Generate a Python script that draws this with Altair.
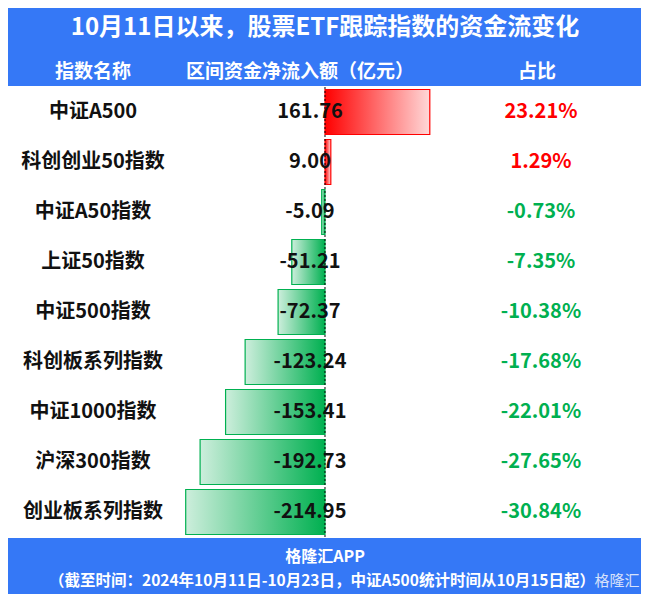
import altair as alt
import pandas as pd

names = ["中证A500", "科创创业50指数", "中证A50指数", "上证50指数", "中证500指数",
         "科创板系列指数", "中证1000指数", "沪深300指数", "创业板系列指数"]
values = [161.76, 9.00, -5.09, -51.21, -72.37, -123.24, -153.41, -192.73, -214.95]
shares = [23.21, 1.29, -0.73, -7.35, -10.38, -17.68, -22.01, -27.65, -30.84]

title_text = "10月11日以来，股票ETF跟踪指数的资金流变化"
headers = ["指数名称", "区间资金净流入额（亿元）", "占比"]
footer1 = "格隆汇APP"
footer2 = "（截至时间：2024年10月11日-10月23日，中证A500统计时间从10月15日起）"
watermark = "格隆汇"

W, H = 633, 586
BLUE = "#3578f6"
RED = "#ff0000"
GREEN = "#00b050"
FONT = "Noto Sans CJK SC"

df = pd.DataFrame({"name": names, "value": values, "share": shares})

yenc = alt.Y("name:N", sort=names, axis=None,
             scale=alt.Scale(range=[79, 529], paddingInner=0.1, paddingOuter=0.05))
xscale = alt.Scale(domain=[-489.2, 487.7], range=[0, W], nice=False, zero=False)
xenc = alt.X("value:Q", scale=xscale, axis=None)
x2enc = alt.X2(datum=0)

base = alt.Chart(df).transform_calculate(
    vlbl="replace(format(datum.value, '.2f'), '\u2212', '-')",
    slbl="replace(format(datum.share, '.2f'), '\u2212', '-') + '%'",
)

red_grad = alt.Gradient(gradient="linear", x1=0, x2=1, y1=0, y2=0,
                        stops=[alt.GradientStop(color=RED, offset=0),
                               alt.GradientStop(color="#ffd8d8", offset=1)])
green_grad = alt.Gradient(gradient="linear", x1=0, x2=1, y1=0, y2=0,
                          stops=[alt.GradientStop(color="#cdeedc", offset=0),
                                 alt.GradientStop(color=GREEN, offset=1)])

pos_bars = base.transform_filter(alt.datum.value > 0).mark_bar(
    fill=red_grad, stroke=RED, strokeWidth=1.2).encode(x=xenc, x2=x2enc, y=yenc)
neg_bars = base.transform_filter(alt.datum.value < 0).mark_bar(
    fill=green_grad, stroke=GREEN, strokeWidth=1.2).encode(x=xenc, x2=x2enc, y=yenc)

zero_line = alt.Chart(pd.DataFrame({"z": [0]})).mark_rule(
    color="black", strokeDash=[2, 2], strokeWidth=1).encode(
    x=alt.X("z:Q", scale=xscale, axis=None), y=alt.value(79), y2=alt.value(529))

name_text = base.mark_text(font=FONT, fontSize=20, fontWeight="bold", color="#111111",
                           align="center", baseline="middle").encode(
    x=alt.value(85), y=yenc, text="name:N")
value_text = base.mark_text(font=FONT, fontSize=20, fontWeight="bold", color="#111111",
                            align="center", baseline="middle").encode(
    x=alt.value(302), y=yenc, text="vlbl:N")
share_text = base.mark_text(
    font=FONT, fontSize=20, fontWeight="bold", align="center", baseline="middle").encode(
    x=alt.value(533), y=yenc, text="slbl:N",
    color=alt.condition(alt.datum.share > 0, alt.value(RED), alt.value(GREEN)))

dummy = pd.DataFrame({"a": [0]})
header_band = alt.Chart(dummy).mark_rect(color=BLUE).encode(
    x=alt.value(0), x2=alt.value(W), y=alt.value(0), y2=alt.value(78))
footer_band = alt.Chart(dummy).mark_rect(color=BLUE).encode(
    x=alt.value(0), x2=alt.value(W), y=alt.value(530), y2=alt.value(H))

title_mark = alt.Chart(dummy).mark_text(
    text=title_text, font=FONT, fontSize=24, fontWeight="bold", color="white",
    align="center", baseline="middle").encode(x=alt.value(317), y=alt.value(20))

hdf = pd.DataFrame({"h": headers, "hx": [85, 292, 529]})
header_marks = alt.Chart(hdf).mark_text(
    font=FONT, fontSize=19, fontWeight="bold", color="white",
    align="center", baseline="middle").encode(
    x=alt.X("hx:Q", scale=None), y=alt.value(64), text="h:N")

foot1 = alt.Chart(dummy).mark_text(
    text=footer1, font=FONT, fontSize=16, fontWeight="bold", color="white",
    align="center", baseline="middle").encode(x=alt.value(317), y=alt.value(549))
foot2 = alt.Chart(dummy).mark_text(
    text=footer2, font=FONT, fontSize=15.5, fontWeight="bold", color="white",
    align="center", baseline="middle").encode(x=alt.value(314), y=alt.value(573))
wm = alt.Chart(dummy).mark_text(
    text=watermark, font=FONT, fontSize=15, color="#e8eefc", opacity=0.9,
    align="center", baseline="middle").encode(x=alt.value(609), y=alt.value(573))

chart = alt.layer(
    header_band, footer_band, pos_bars, neg_bars, zero_line,
    name_text, value_text, share_text, title_mark, header_marks, foot1, foot2, wm
).properties(
    width=W, height=H, padding=0, autosize=alt.AutoSizeParams(type="none"),
    background="white"
).configure_view(stroke=None)

chart.save("out.html", embed_options={"renderer": "svg", "actions": False})
